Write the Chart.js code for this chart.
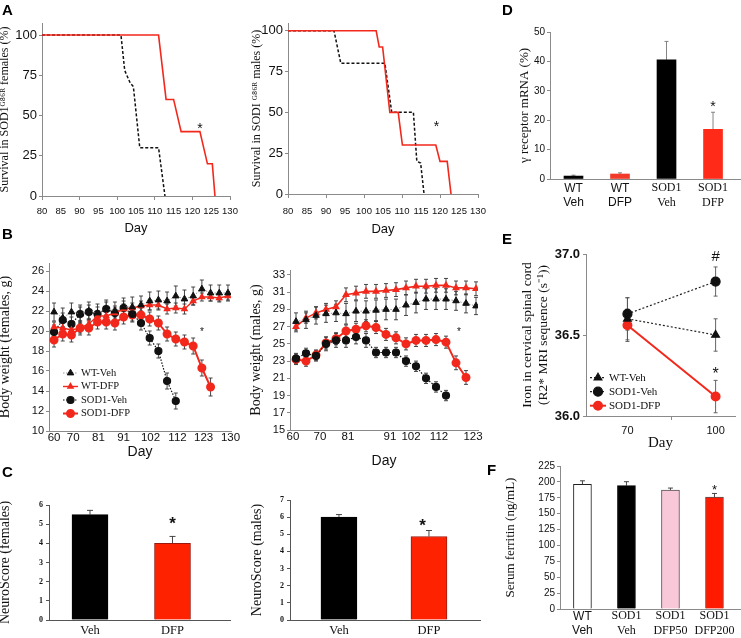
<!DOCTYPE html>
<html>
<head>
<meta charset="utf-8">
<script src="https://cdn.jsdelivr.net/npm/chart.js@4.4.1/dist/chart.umd.min.js"></script>
<style>
  body { margin: 0; background: #fff; width: 741px; height: 638px; position: relative; overflow: hidden; }
  .box { position: absolute; }
  .lt { position: absolute; font: bold 15px "Liberation Sans", Arial, sans-serif; line-height: 15px; color: #000; }
</style>
</head>
<body>
<div class="box" style="left:0;top:0;width:245px;height:242px"><canvas id="aF"></canvas></div>
<div class="box" style="left:245px;top:0;width:250px;height:242px"><canvas id="aM"></canvas></div>
<div class="box" style="left:0;top:245px;width:245px;height:225px"><canvas id="bF"></canvas></div>
<div class="box" style="left:245px;top:245px;width:250px;height:225px"><canvas id="bM"></canvas></div>
<div class="box" style="left:0;top:470px;width:245px;height:168px"><canvas id="cF"></canvas></div>
<div class="box" style="left:245px;top:470px;width:250px;height:168px"><canvas id="cM"></canvas></div>
<div class="box" style="left:495px;top:0;width:246px;height:225px"><canvas id="d"></canvas></div>
<div class="box" style="left:495px;top:225px;width:246px;height:245px"><canvas id="e"></canvas></div>
<div class="box" style="left:495px;top:455px;width:246px;height:183px"><canvas id="f"></canvas></div>
<div class="lt" style="left:2px;top:2px">A</div>
<div class="lt" style="left:2px;top:226px">B</div>
<div class="lt" style="left:2px;top:464px">C</div>
<div class="lt" style="left:502px;top:2px">D</div>
<div class="lt" style="left:502px;top:231px">E</div>
<div class="lt" style="left:487px;top:462px">F</div>
<script>
const SANS = '"Liberation Sans", Arial, sans-serif';
const SERIF = '"Liberation Serif", "Times New Roman", serif';
const AXIS = '#8a8a8a';
const RED = '#f2281c';

// ---- A: survival curves
const survTicks = [0, 25, 50, 75, 100];
const femVehDays = [80, 101, 102, 103.5, 104.3, 106, 111, 112.7];
const femVehSurv = [100, 100, 78, 70, 68, 30, 30, 0];
const femDfpDays = [80, 111, 113, 115, 117, 122, 124, 125.3, 126];
const femDfpSurv = [100, 100, 60, 60, 40, 40, 20, 20, 0];
const malVehDays = [80, 92.1, 93.9, 105.5, 107.3, 113, 113.9, 114.9, 115.8];
const malVehSurv = [100, 100, 80, 80, 50, 50, 20, 19, 0];
const malDfpDays = [80, 103.2, 104, 104.9, 106.8, 109, 110.1, 118.9, 120, 121.9, 122.9];
const malDfpSurv = [100, 100, 90, 90, 50, 50, 30, 30, 20, 20, 0];

// ---- B: body weight (index of measurement, labelled days)
const bwFemTickPos = [0, 2.2, 5.1, 8, 11.1, 14.2, 17.2, 20.3];
const bwFemTickLabels = ['60', '70', '81', '91', '102', '112', '123', '130'];
const bwFemYTicks = [10, 12, 14, 16, 18, 20, 22, 24, 26];
const wtVehF = [21.9, 21.3, 21.9, 21.7, 22.0, 21.8, 22.2, 22.0, 22.4, 22.4, 22.6, 23.0, 23.1, 23.0, 23.5, 23.2, 23.5, 24.2, 23.8, 23.8, 23.8];
const wtVehFErr = [0.9, 1.0, 0.9, 0.9, 0.9, 0.9, 0.9, 0.9, 0.9, 1.0, 0.9, 0.9, 0.9, 0.9, 1.0, 0.9, 0.9, 0.9, 0.8, 0.8, 0.8];
const wtDfpF = [20.4, 20.3, 20.1, 20.3, 20.7, 21.5, 21.5, 21.8, 22.2, 22.3, 22.5, 22.6, 22.6, 22.2, 22.3, 22.2, 23.0, 23.4, 23.4, 23.3, 23.5];
const wtDfpFErr = [0.5, 0.5, 0.5, 0.5, 0.5, 0.5, 0.5, 0.5, 0.5, 0.5, 0.5, 0.5, 0.5, 0.5, 0.5, 0.5, 0.4, 0.4, 0.4, 0.4, 0.4];
const sodVehF = [19.9, 21.1, 20.7, 21.7, 21.9, 21.7, 22.2, 21.8, 22.3, 21.7, 20.8, 19.3, 18.0, 15.0, 13.0];
const sodVehFErr = [0.7, 0.7, 0.7, 0.7, 0.7, 0.7, 0.7, 0.7, 0.7, 0.7, 0.7, 0.7, 0.7, 0.8, 0.8];
const sodDfpF = [19.1, 19.7, 19.6, 20.3, 20.3, 20.9, 20.9, 20.8, 21.4, 21.6, 21.6, 21.2, 20.8, 19.7, 19.2, 18.9, 18.5, 16.3, 14.4];
const sodDfpFErr = [0.7, 0.7, 0.7, 0.7, 0.7, 0.7, 0.7, 0.7, 0.7, 0.7, 0.7, 0.7, 0.7, 0.7, 0.7, 0.7, 0.8, 0.8, 0.9];

const bwMalTickPos = [-0.3, 2.4, 5.2, 9.4, 11.5, 14.3, 17.7];
const bwMalTickLabels = ['60', '70', '81', '91', '102', '112', '123'];
const bwMalYTicks = [15, 17, 19, 21, 23, 25, 27, 29, 31, 33];
const wtVehM = [27.6, 27.8, 28.3, 28.5, 28.6, 28.5, 28.8, 28.8, 28.9, 29.0, 29.0, 29.5, 29.8, 30.2, 30.2, 30.2, 30.0, 29.7, 29.4];
const wtVehMErr = [1.0, 1.0, 1.0, 1.0, 1.0, 1.2, 1.2, 1.2, 1.2, 1.2, 1.2, 1.2, 1.2, 1.2, 1.2, 1.2, 1.1, 1.1, 1.0];
const wtDfpM = [27.0, 28.0, 28.6, 29.0, 29.3, 30.7, 30.9, 31.1, 31.1, 31.2, 31.3, 31.5, 31.7, 31.7, 31.8, 31.8, 31.5, 31.5, 31.4];
const wtDfpMErr = [0.6, 0.6, 0.7, 0.7, 0.7, 0.8, 0.8, 0.8, 0.8, 0.8, 0.8, 0.8, 0.8, 0.8, 0.8, 0.8, 0.8, 0.8, 0.8];
const sodVehM = [23.3, 23.9, 23.6, 25.0, 25.4, 25.4, 25.8, 25.4, 24.0, 24.0, 24.0, 23.0, 22.4, 21.0, 20.0, 19.0];
const sodVehMErr = [0.6, 0.6, 0.6, 0.8, 0.8, 0.8, 0.8, 0.8, 0.6, 0.6, 0.6, 0.6, 0.6, 0.6, 0.6, 0.6];
const sodDfpM = [23.2, 23.0, 23.7, 25.1, 25.6, 26.5, 26.7, 27.1, 26.9, 26.1, 25.7, 25.0, 25.4, 25.4, 25.5, 25.2, 22.8, 21.1];
const sodDfpMErr = [0.6, 0.6, 0.6, 0.7, 0.7, 0.7, 0.7, 0.7, 0.7, 0.7, 0.7, 0.7, 0.7, 0.7, 0.7, 0.7, 0.8, 0.8];

// ---- C: NeuroScore
const cLabels = ['Veh', 'DFP'];
const cFemVals = [5.5, 4.0];
const cFemErr = [0.22, 0.36];
const cFemTicks = [0, 1, 2, 3, 4, 5, 6];
const cMalVals = [6.0, 4.87];
const cMalErr = [0.15, 0.35];
const cMalTicks = [0, 1, 2, 3, 4, 5, 6, 7];

// ---- D: receptor mRNA
const dLabels = [['WT', 'Veh'], ['WT', 'DFP'], ['SOD1', 'Veh'], ['SOD1', 'DFP']];
const dVals = [1.0, 1.7, 40.5, 16.9];
const dErr = [0.3, 0.4, 6.3, 5.8];
const dTicks = [0, 5, 10, 15, 20, 25, 30, 35, 40, 45, 50];

// ---- E: iron in spinal cord
const eDays = [70, 100];
const eDayLabels = ['70', '100'];
const eTicks = [36.0, 36.5, 37.0];
const eWtVeh = [36.60, 36.50];
const eWtVehErr = [0.13, 0.10];
const eSodVeh = [36.63, 36.83];
const eSodVehErr = [0.10, 0.09];
const eSodDfp = [36.56, 36.12];
const eSodDfpErr = [0.10, 0.10];

// ---- F: serum ferritin
const fLabels = [['WT', 'Veh'], ['SOD1', 'Veh'], ['SOD1', 'DFP50'], ['SOD1', 'DFP200']];
const fVals = [196, 194, 187, 176];
const fErr = [5.7, 6.3, 3.3, 5.8];
const fTicks = [0, 25, 50, 75, 100, 125, 150, 175, 200, 225];

Chart.defaults.color = '#111';
Chart.defaults.font.family = SANS;

// error bars drawn from the dataset's err array through the chart scales
const errBars = {
  id: 'errBars',
  beforeDatasetsDraw(chart) {
    const { ctx, scales: { x, y } } = chart;
    chart.data.datasets.forEach(ds => {
      if (!ds.err) return;
      ctx.save();
      ctx.strokeStyle = ds.errColor || '#333';
      ctx.lineWidth = ds.errWidth || 0.9;
      ds.data.forEach((p, i) => {
        const e = ds.err[i];
        if (p == null || e == null) return;
        const px = x.getPixelForValue(p.x);
        const top = y.getPixelForValue(p.y + e);
        const bot = y.getPixelForValue(ds.errUp ? p.y : p.y - e);
        const c = ds.errCap || 2;
        ctx.beginPath();
        ctx.moveTo(px, top); ctx.lineTo(px, bot);
        ctx.moveTo(px - c, top); ctx.lineTo(px + c, top);
        if (!ds.errUp) { ctx.moveTo(px - c, bot); ctx.lineTo(px + c, bot); }
        ctx.stroke();
      });
      ctx.restore();
    });
  }
};

// significance marks placed in data coordinates
const marks = {
  id: 'marks',
  afterDatasetsDraw(chart, args, opts) {
    const { ctx, scales: { x, y } } = chart;
    (opts.items || []).forEach(m => {
      ctx.save();
      ctx.font = (m.weight || 'normal') + ' ' + m.size + 'px ' + (m.family || SANS);
      ctx.fillStyle = '#111';
      ctx.textAlign = 'center';
      ctx.textBaseline = 'middle';
      const dy = m.t === '*' ? m.size * 0.25 : 0;
      ctx.fillText(m.t, x.getPixelForValue(m.x), y.getPixelForValue(m.y) + dy);
      ctx.restore();
    });
  }
};

// legend drawn inside the plot area
const inLegend = {
  id: 'inLegend',
  afterDatasetsDraw(chart, args, o) {
    if (!o || !o.order) return;
    const ctx = chart.ctx;
    o.order.forEach((di, k) => {
      const ds = chart.data.datasets[di];
      const yy = o.y + k * o.dy;
      ctx.save();
      ctx.strokeStyle = ds.borderColor;
      ctx.lineWidth = ds.borderWidth;
      ctx.setLineDash(ds.borderDash || []);
      ctx.beginPath(); ctx.moveTo(o.x, yy); ctx.lineTo(o.x + o.len, yy); ctx.stroke();
      ctx.setLineDash([]);
      ctx.fillStyle = ds.pointBackgroundColor;
      ctx.strokeStyle = ds.pointBackgroundColor;
      Chart.helpers.drawPoint(ctx, { pointStyle: ds.pointStyle, radius: ds.pointRadius, rotation: 0, borderWidth: 1 }, o.x + o.len / 2, yy);
      ctx.fillStyle = '#111';
      ctx.font = o.font;
      ctx.textBaseline = 'middle';
      ctx.textAlign = 'left';
      ctx.fillText(ds.label, o.x + o.len + 3, yy);
      ctx.restore();
    });
  }
};

function xy(xs, ys) { return ys.map((v, i) => ({ x: xs[i], y: v })); }
function idx(ys) { return ys.map((v, i) => ({ x: i, y: v })); }

function baseOpts(pad) {
  return {
    responsive: true, maintainAspectRatio: false, animation: false,
    layout: { padding: pad },
    plugins: { legend: { display: false }, tooltip: { enabled: false } }
  };
}

function yScale(o) {
  return {
    type: 'linear', min: o.min, max: o.max,
    afterFit: s => { s.width = o.w; },
    afterBuildTicks: s => { s.ticks = o.ticks.map(v => ({ value: v })); },
    border: { color: o.axis || AXIS },
    grid: { drawOnChartArea: false, tickLength: o.tl == null ? 3 : o.tl, color: o.axis || AXIS },
    ticks: {
      padding: o.pad == null ? 2 : o.pad,
      font: o.font,
      callback: o.cb || (v => String(v))
    },
    title: { display: true, text: o.title, font: o.tfont, padding: { top: o.tpad, bottom: 0 } }
  };
}

function xScale(o) {
  const s = {
    type: 'linear', min: o.min, max: o.max,
    afterFit: sc => { sc.height = o.h; },
    afterBuildTicks: sc => { sc.ticks = o.ticks.map(v => ({ value: v })); },
    border: { color: o.axis || AXIS },
    grid: { drawOnChartArea: false, drawTicks: !!o.tl, tickLength: o.tl || 0, color: o.tickColor || (o.axis || AXIS) },
    ticks: { padding: o.pad, font: o.font, maxRotation: 0, autoSkip: false, callback: (v, i) => o.labels[i] }
  };
  s.title = o.title
    ? { display: true, text: o.title, font: o.tfont, padding: { top: 0, bottom: o.tpad } }
    : { display: false };
  return s;
}

// ---------- A ----------
function survChart(id, vehDays, vehSurv, dfpDays, dfpSurv, yMax, pad, yW, xH, tickPad, titlePad, yTitlePad, yTitle, star) {
  const survDayTicks = [80, 85, 90, 95, 100, 105, 110, 115, 120, 125, 130];
  new Chart(document.getElementById(id), {
    type: 'line',
    data: {
      datasets: [
        { label: 'SOD1-DFP', data: xy(dfpDays, dfpSurv), borderColor: RED, borderWidth: 1.6, pointRadius: 0 },
        { label: 'SOD1-Veh', data: xy(vehDays, vehSurv), borderColor: '#111', borderWidth: 1.5, borderDash: [3, 2], pointRadius: 0 }
      ]
    },
    options: Object.assign(baseOpts(pad), {
      scales: {
        x: xScale({ min: 80, max: 130, h: xH, ticks: survDayTicks, labels: survDayTicks.map(String), tl: 4, pad: tickPad,
          tickColor: c => (c.tick && c.tick.value % 10 === 0) ? AXIS : 'rgba(0,0,0,0)',
          font: { size: 9.5 }, title: 'Day', tfont: { size: 13 }, tpad: titlePad }),
        y: yScale({ min: 0, max: yMax, w: yW, ticks: survTicks, font: { size: 13 }, title: yTitle,
          tfont: { family: SERIF, size: 12 }, tpad: yTitlePad })
      },
      plugins: Object.assign(baseOpts(pad).plugins, { marks: { items: [star] } })
    }),
    plugins: [marks]
  });
}
survChart('aF', femVehDays, femVehSurv, femDfpDays, femDfpSurv, 107.5,
  { top: 23, right: 15, left: 0, bottom: 0 }, 42, 46, 6, 6, -2,
  'Survival in SOD1ᴳ⁸⁶ᴿ females (%)', { x: 122, y: 44, t: '*', size: 14 });
survChart('aM', malVehDays, malVehSurv, malDfpDays, malDfpSurv, 104.7,
  { top: 23, right: 17, left: 0, bottom: 0 }, 43, 48, 8, 5, 5,
  'Survival in SODI ᴳ⁸⁶ᴿ males (%)', { x: 119.1, y: 43, t: '*', size: 14 });

// ---------- B ----------
function bwSets(wv, wve, wd, wde, sv, sve, sd, sde, wdWidth) {
  return [
    { label: 'WT-Veh', data: idx(wv), err: wve, borderColor: '#9a9a9a', borderWidth: 1, borderDash: [1.5, 1.5],
      pointStyle: 'triangle', pointRadius: 3.8, pointBackgroundColor: '#111', pointBorderColor: '#111' },
    { label: 'WT-DFP', data: idx(wd), err: wde, borderColor: RED, borderWidth: wdWidth,
      pointStyle: 'triangle', pointRadius: 3, pointBackgroundColor: RED, pointBorderColor: RED },
    { label: 'SOD1-Veh', data: idx(sv), err: sve, borderColor: '#111', borderWidth: 1.2, borderDash: [1.5, 1.5],
      pointStyle: 'circle', pointRadius: 3.5, pointBackgroundColor: '#111', pointBorderColor: '#111' },
    { label: 'SOD1-DFP', data: idx(sd), err: sde, borderColor: RED, borderWidth: 2,
      pointStyle: 'circle', pointRadius: 3.5, pointBackgroundColor: RED, pointBorderColor: RED }
  ];
}

new Chart(document.getElementById('bF'), {
  type: 'line',
  data: { datasets: bwSets(wtVehF, wtVehFErr, wtDfpF, wtDfpFErr, sodVehF, sodVehFErr, sodDfpF, sodDfpFErr, 1.4) },
  options: Object.assign(baseOpts({ top: 18, right: 14, left: 0, bottom: 0 }), {
    scales: {
      x: xScale({ min: -0.58, max: 20.35, h: 39, ticks: bwFemTickPos, labels: bwFemTickLabels, pad: 0,
        font: { size: 11.5 }, title: 'Day', tfont: { size: 14 }, tpad: 9.6 }),
      y: yScale({ min: 10, max: 26.8, w: 49, ticks: bwFemYTicks, font: { size: 11 }, title: 'Body weight (females, g)',
        tfont: { family: SERIF, size: 14 }, tpad: -3 })
    },
    plugins: {
      legend: { display: false }, tooltip: { enabled: false },
      marks: { items: [{ x: 17, y: 20.1, t: '*', size: 10 }] },
      inLegend: { order: [0, 1, 2, 3], x: 63, y: 128, dy: 13.5, len: 15, font: '10.5px ' + SERIF }
    }
  }),
  plugins: [errBars, marks, inLegend]
});

new Chart(document.getElementById('bM'), {
  type: 'line',
  data: { datasets: bwSets(wtVehM, wtVehMErr, wtDfpM, wtDfpMErr, sodVehM, sodVehMErr, sodDfpM, sodDfpMErr, 1.6) },
  options: Object.assign(baseOpts({ top: 25, right: 17, left: 0, bottom: 0 }), {
    scales: {
      x: xScale({ min: -0.6, max: 18.2, h: 40, ticks: bwMalTickPos, labels: bwMalTickLabels, pad: 0,
        font: { size: 11.5 }, title: 'Day', tfont: { size: 14 }, tpad: 0.6 }),
      y: yScale({ min: 15, max: 33.58, w: 45, ticks: bwMalYTicks, font: { size: 11 }, title: 'Body weight (males, g)',
        tfont: { family: SERIF, size: 14 }, tpad: 2.6 })
    },
    plugins: {
      legend: { display: false }, tooltip: { enabled: false },
      marks: { items: [{ x: 16.3, y: 26.6, t: '*', size: 10 }] }
    }
  }),
  plugins: [errBars, marks]
});

// ---------- bar helpers ----------
function barChart(id, o) {
  new Chart(document.getElementById(id), {
    type: 'bar',
    data: {
      datasets: [{
        data: xy(o.pos, o.vals), err: o.err, errUp: true, errCap: o.cap, errColor: o.errColor || '#333',
        backgroundColor: o.colors, borderColor: o.borders, borderWidth: o.bw, barThickness: o.thick
      }]
    },
    options: Object.assign(baseOpts(o.pad), {
      scales: {
        x: Object.assign(xScale({ min: o.xmin, max: o.xmax, h: o.xH, ticks: o.pos, labels: o.labels, pad: o.xpad,
          font: o.xfont, axis: o.axis }), { offset: false }),
        y: yScale({ min: 0, max: o.ymax, w: o.yW, ticks: o.yticks, font: o.yfont, title: o.title,
          tfont: o.tfont, tpad: o.tpad, tl: o.ytl, pad: o.ypad, axis: o.axis })
      },
      plugins: { legend: { display: false }, tooltip: { enabled: false }, marks: { items: o.marks } }
    }),
    plugins: [errBars, marks]
  });
}

// ---------- C ----------
barChart('cF', {
  pos: [1, 2], vals: cFemVals, err: cFemErr, labels: cLabels, cap: 3,
  colors: ['#000', '#ff2200'], borders: ['#000', '#9a1a10'], bw: 1, thick: 36,
  pad: { top: 35, right: 15, left: 0, bottom: 0 }, xmin: 0.503, xmax: 2.697, xH: 18, xpad: 3,
  xfont: { family: SERIF, size: 12.5 }, ymax: 6, yW: 49, yticks: cFemTicks,
  yfont: { family: SERIF, size: 8, weight: 'bold' }, title: 'NeuroScore (females)',
  tfont: { family: SERIF, size: 14 }, tpad: -3, ytl: 3, ypad: 3, axis: '#555',
  marks: [{ x: 2, y: 5.2, t: '*', size: 17, weight: 'bold' }]
});
barChart('cM', {
  pos: [1, 2], vals: cMalVals, err: cMalErr, labels: cLabels, cap: 3,
  colors: ['#000', '#ff2200'], borders: ['#000', '#9a1a10'], bw: 1, thick: 36,
  pad: { top: 30, right: 15, left: 0, bottom: 0 }, xmin: 0.456, xmax: 2.567, xH: 18, xpad: 3,
  xfont: { family: SERIF, size: 12.5 }, ymax: 7, yW: 45, yticks: cMalTicks,
  yfont: { family: SERIF, size: 8, weight: 'bold' }, title: 'NeuroScore (males)',
  tfont: { family: SERIF, size: 14 }, tpad: 3.6, ytl: 3, ypad: 3, axis: '#555',
  marks: [{ x: 1.93, y: 5.73, t: '*', size: 17, weight: 'bold' }]
});

// ---------- D ----------
barChart('d', {
  pos: [1, 2, 3, 4], vals: dVals, err: dErr, labels: dLabels, cap: 2, errColor: '#777',
  colors: ['#000', '#f23a2a', '#000', '#ff2a18'], borders: ['#000', '#c22', '#000', '#c22'], bw: 0, thick: 19,
  pad: { top: 32, right: 1, left: 0, bottom: 0 }, xmin: 0.495, xmax: 4.58, xH: 46, xpad: 2,
  xfont: c => ({ family: c.index < 2 ? SANS : SERIF, size: 12 }),
  ymax: 50, yW: 55, yticks: dTicks, yfont: { size: 10 }, title: 'γ receptor mRNA (%)',
  tfont: { family: SERIF, size: 13 }, tpad: 22, ytl: 3, ypad: 2,
  marks: [{ x: 4, y: 25.8, t: '*', size: 14 }]
});

// ---------- E ----------
new Chart(document.getElementById('e'), {
  type: 'line',
  data: {
    datasets: [
      { label: 'WT-Veh', data: xy(eDays, eWtVeh), err: eWtVehErr, errCap: 0, errColor: '#555', borderColor: '#222',
        borderWidth: 1.2, borderDash: [2, 2], pointStyle: 'triangle', pointRadius: 4.5,
        pointBackgroundColor: '#111', pointBorderColor: '#111' },
      { label: 'SOD1-Veh', data: xy(eDays, eSodVeh), err: eSodVehErr, errCap: 0, errColor: '#555', borderColor: '#222',
        borderWidth: 1.2, borderDash: [2, 2], pointStyle: 'circle', pointRadius: 4.5,
        pointBackgroundColor: '#111', pointBorderColor: '#111' },
      { label: 'SOD1-DFP', data: xy(eDays, eSodDfp), err: eSodDfpErr, errCap: 0, errColor: '#555', borderColor: RED,
        borderWidth: 2, pointStyle: 'circle', pointRadius: 4,
        pointBackgroundColor: RED, pointBorderColor: RED }
    ]
  },
  options: Object.assign(baseOpts({ top: 29, right: 3, left: 0, bottom: 0 }), {
    scales: {
      x: xScale({ min: 55.9, max: 106.6, h: 54, ticks: [70, 85, 100], labels: [eDayLabels[0], '', eDayLabels[1]],
        tl: 4, pad: 4, tickColor: c => (c.tick && c.tick.value === 85) ? AXIS : 'rgba(0,0,0,0)',
        font: { size: 11 }, title: 'Day', tfont: { family: SERIF, size: 15 }, tpad: 18 }),
      y: yScale({ min: 36.0, max: 37.0, w: 91, ticks: eTicks, font: { size: 13, weight: 'bold' },
        cb: v => v.toFixed(1), title: ['Iron in cervical spinal cord', '(R2* MRI sequence (s⁻¹))'],
        tfont: { family: SERIF, size: 13.5 }, tpad: 24, pad: 3 })
    },
    plugins: {
      legend: { display: false }, tooltip: { enabled: false },
      marks: { items: [{ x: 100, y: 36.98, t: '#', size: 15 }, { x: 100, y: 36.28, t: '*', size: 16 }] },
      inLegend: { order: [0, 1, 2], x: 95, y: 152.7, dy: 14, len: 16, font: '11px ' + SERIF }
    }
  }),
  plugins: [errBars, marks, inLegend]
});

// ---------- F ----------
barChart('f', {
  pos: [1, 2, 3, 4], vals: fVals, err: fErr, labels: fLabels, cap: 2.5,
  colors: ['#fff', '#000', '#f8c8d8', '#ff1a00'], borders: ['#222', '#000', '#555', '#555'], bw: 1, thick: 18,
  pad: { top: 11, right: 1, left: 0, bottom: 0 }, xmin: 0.49, xmax: 4.58, xH: 29, xpad: 0,
  xfont: c => ({ family: c.index < 1 ? SANS : SERIF, size: 12 }),
  ymax: 225, yW: 65, yticks: fTicks, yfont: { size: 10 }, title: 'Serum ferritin (ng/mL)',
  tfont: { family: SERIF, size: 13 }, tpad: 8, ytl: 3, ypad: 2,
  marks: [{ x: 4, y: 192, t: '*', size: 13 }]
});
</script>
</body>
</html>
